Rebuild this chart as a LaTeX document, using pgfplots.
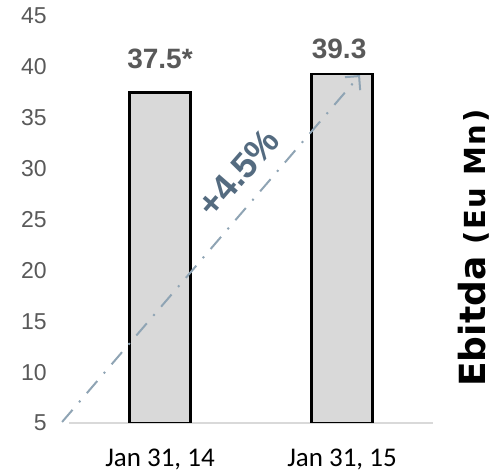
\documentclass[border=0pt]{standalone}
\usepackage{fontspec}
\setmainfont{Liberation Sans}
\newfontfamily\carlito{Carlito}
\newfontfamily\dejavu{DejaVu Sans}
\newfontfamily\dejavuwide[LetterSpace=6]{DejaVu Sans}
\usepackage{pgfplots}
\pgfplotsset{compat=1.18}
\usetikzlibrary{arrows.meta}
\definecolor{tickgray}{HTML}{595959}
\definecolor{barfill}{HTML}{D9D9D9}
\definecolor{arrowc}{HTML}{8FA4B4}
\definecolor{pctc}{HTML}{546B80}
\begin{document}
\begin{tikzpicture}
\path[use as bounding box] (0,0) rectangle (250pt,236.5pt);
\begin{axis}[
  at={(34.5pt,25pt)}, anchor=south west,
  scale only axis, width=182pt, height=203.5pt,
  xmin=-0.5, xmax=1.5, ymin=5, ymax=45,
  axis x line*=bottom, axis y line*=left,
  x axis line style={draw=barfill, line width=1pt, -},
  y axis line style={draw=none},
  major tick length=0pt,
  xtick={0,1}, xticklabels={{Jan 31, 14},{Jan 31, 15}},
  ytick={5,10,...,45},
  /pgf/number format/assume math mode=true,
  yticklabel style={font=\fontsize{11.5}{12}\selectfont, text=tickgray, anchor=east, inner sep=0pt, xshift=-11pt},
  xticklabel style={font=\carlito\fontsize{13.5}{14}\selectfont, text=black, anchor=north, inner sep=0pt, yshift=-13pt},
  ybar, bar width=30.5pt,
  clip mode=individual,
]
\addplot[fill=barfill, draw=black, line width=1.2pt] coordinates {(0,37.5) (1,39.3)};
\draw[arrowc, line width=1pt, dash pattern=on 8pt off 5pt on 1pt off 5pt, -{Straight Barb[length=5pt,width=10pt]}] (axis cs:-0.538,5.1) -- (axis cs:1.099,39.2);
\node[font=\bfseries\fontsize{14}{16}\selectfont, text=tickgray] at (axis cs:0,40.77) {37.5*};
\node[font=\bfseries\fontsize{14}{16}\selectfont, text=tickgray] at (axis cs:0.984,41.76) {39.3};
\node[rotate=49, font=\bfseries\fontsize{18}{20}\selectfont, text=pctc] at (axis cs:0.43,29.6) {+4.5\%};
\end{axis}
\node[rotate=90, anchor=base west, inner sep=0pt] at (243pt,43pt) {\dejavu\bfseries\fontsize{18}{20}\selectfont Ebitda\dejavuwide\bfseries\fontsize{14.5}{16}\selectfont{} (Eu Mn)};
\end{tikzpicture}
\end{document}
